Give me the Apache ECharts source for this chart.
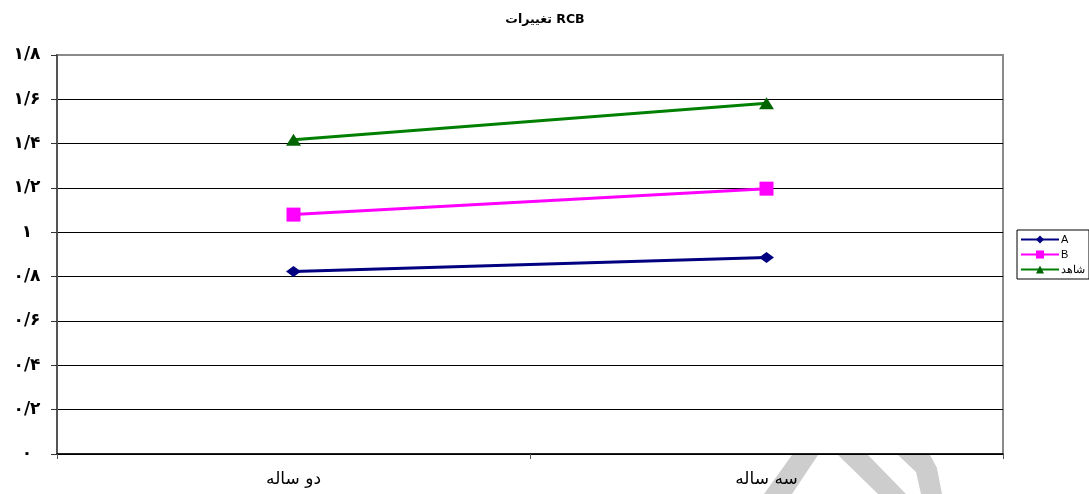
<!DOCTYPE html>
<html>
<head>
<meta charset="utf-8">
<style>
  html, body { margin: 0; padding: 0; background: #fff; }
  #chart { width: 1089px; height: 494px; }
</style>
<script src="https://cdn.jsdelivr.net/npm/echarts@6/dist/echarts.min.js"></script>
</head>
<body>
<div id="chart"></div>
<script>
// Categories (period) and the three groups' RCB values
const categories = ['دو ساله', 'سه ساله'];
const seriesNames = ['A', 'B', 'شاهد'];
const valuesA = [0.823, 0.887];
const valuesB = [1.08, 1.197];
const valuesControl = [1.418, 1.582];
const yMin = 0, yMax = 1.8, yStep = 0.2;

// Persian digits with "/" as the decimal separator
const faDigits = ['۰','۱','۲','۳','۴','۵','۶','۷','۸','۹'];
function toPersian(v) {
  const s = String(Math.round(v * 10) / 10);
  return s.replace(/[0-9]/g, d => faDigits[+d]).replace('.', '/');
}

// gridlines are black; the topmost one doubles as the grey plot border
const gridCount = Math.round((yMax - yMin) / yStep) + 1;
const gridColors = Array.from({ length: gridCount }, (_, i) => i === gridCount - 1 ? '#8a8a8a' : '#000');

const chart = echarts.init(document.getElementById('chart'));

const option = {
  backgroundColor: '#ffffff',
  animation: false,
  title: {
    text: 'تغییرات RCB',
    left: 540,
    top: 8,
    textAlign: 'center',
    textStyle: { fontFamily: 'DejaVu Sans', fontSize: 12.5, fontWeight: 'bold', color: '#000' }
  },
  legend: {
    orient: 'vertical',
    left: 1017,
    top: 230,
    padding: [4, 4, 4, 3],
    itemGap: 4,
    itemWidth: 38,
    itemHeight: 10,
    borderColor: '#000',
    borderWidth: 1,
    textStyle: { fontFamily: 'Liberation Sans', fontSize: 11, color: '#000', padding: [0, 0, 0, -3] },
    data: seriesNames
  },
  grid: {
    left: 57,
    right: 86,
    top: 55,
    bottom: 40,
    show: true,
    backgroundColor: '#fff',
    borderColor: '#8a8a8a',
    borderWidth: 2
  },
  xAxis: {
    type: 'category',
    data: categories,
    boundaryGap: true,
    axisLine: { lineStyle: { color: '#000', width: 1.5 } },
    axisTick: { show: true, length: 5, lineStyle: { color: '#555' } },
    axisLabel: { margin: 17, fontFamily: 'DejaVu Sans', fontSize: 17, color: '#000' },
    splitLine: { show: false }
  },
  yAxis: {
    type: 'value',
    min: yMin,
    max: yMax,
    interval: yStep,
    axisLine: { show: true, lineStyle: { color: '#555', width: 2 } },
    axisTick: { show: true, length: 6, lineStyle: { color: '#333' } },
    axisLabel: {
      margin: 30,
      align: 'center',
      fontFamily: 'DejaVu Sans',
      fontSize: 17,
      fontWeight: 'bold',
      color: '#000',
      formatter: toPersian
    },
    splitLine: { show: true, lineStyle: { color: gridColors, width: 1 } }
  },
  graphic: [
    // light grey watermark strokes below the axis
    { type: 'polygon', z: -1, shape: { points: [[792,455],[818,455],[792,494],[764,494]] }, style: { fill: '#cdcdcd' } },
    { type: 'polygon', z: -1, shape: { points: [[838,455],[868,455],[906,494],[878,494]] }, style: { fill: '#cdcdcd' } },
    { type: 'polygon', z: -1, shape: { points: [[898,455],[930,455],[937,468],[942,494],[921,494],[916,472]] }, style: { fill: '#cdcdcd' } }
  ],
  series: [
    {
      name: seriesNames[0],
      type: 'line',
      data: valuesA,
      symbol: 'diamond',
      symbolSize: [15, 11],
      lineStyle: { color: '#000080', width: 3 },
      itemStyle: { color: '#000080' }
    },
    {
      name: seriesNames[1],
      type: 'line',
      data: valuesB,
      symbol: 'rect',
      symbolSize: 14,
      lineStyle: { color: '#ff00ff', width: 3 },
      itemStyle: { color: '#ff00ff' }
    },
    {
      name: seriesNames[2],
      type: 'line',
      data: valuesControl,
      symbol: 'triangle',
      symbolSize: [15, 12],
      lineStyle: { color: '#008000', width: 3 },
      itemStyle: { color: '#006400' }
    }
  ]
};

chart.setOption(option);
</script>
</body>
</html>
